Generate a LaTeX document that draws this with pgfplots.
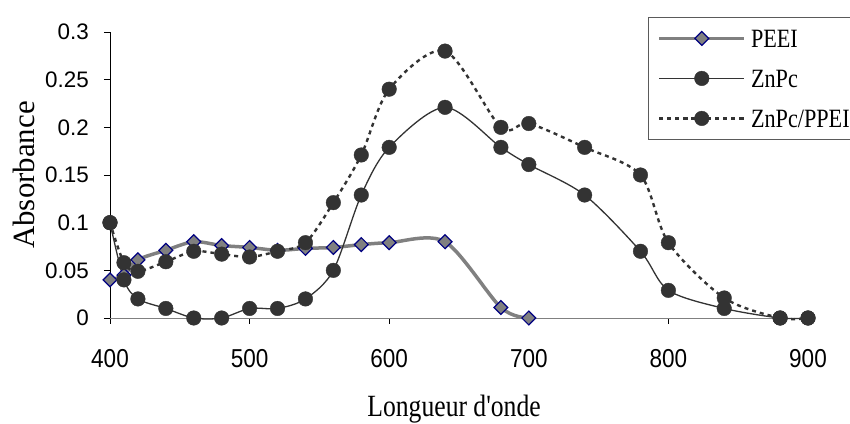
\documentclass[border=0pt]{standalone}
\usepackage{fontspec}
\setmainfont{Liberation Serif}
\newfontfamily\arialf{Liberation Sans}
\newfontfamily\arialc[FakeStretch=0.87]{Liberation Sans}
\newfontfamily\timesc[FakeStretch=0.83]{Liberation Serif}
\newfontfamily\timesl[FakeStretch=0.84]{Liberation Serif}
\usepackage{pgfplots}
\pgfplotsset{compat=1.18}
\definecolor{dk}{HTML}{333333}
\definecolor{gr}{HTML}{808080}
\definecolor{nv}{HTML}{000080}
\begin{document}
\begin{tikzpicture}
\path[use as bounding box] (0,0) rectangle (850bp,424bp);
\begin{axis}[
  at={(110bp,106bp)}, anchor=south west,
  scale only axis, width=698bp, height=286bp,
  xmin=400, xmax=900, ymin=0, ymax=0.3,
  clip=false,
  axis x line*=bottom, axis y line*=left,
  x axis line style={gr, line width=1bp, -},
  y axis line style={black, line width=0.8bp, -},
  xtick={400,500,600,700,800,900},
  xticklabels={400,500,600,700,800,900},
  ytick={0,0.05,0.1,0.15,0.2,0.25,0.3},
  yticklabels={0,0.05,0.1,0.15,0.2,0.25,0.3},
  tick align=outside, major tick length=6bp,
  tick style={black, line width=0.8bp},
  xticklabel style={font=\arialc\fontsize{26}{30}\selectfont, anchor=base, inner sep=0pt, yshift=-43bp},
  yticklabel style={font=\arialf\fontsize{22.5}{26}\selectfont, anchor=east, inner sep=0pt, xshift=-15bp},
  xlabel={Longueur d'onde}, ylabel={Absorbance},
  xlabel style={font=\timesc\fontsize{31}{36}\selectfont, at={(axis description cs:0.493,-0.346)}, anchor=base},
  ylabel style={font=\fontsize{31}{36}\selectfont, at={(axis description cs:-0.123,0.5)}, anchor=center},
  legend style={at={(0.771,1.0524)}, anchor=north west, draw=gr!70!black, line width=0.8bp,
    font=\timesl\fontsize{26.5}{30}\selectfont, fill=white, inner xsep=9bp, inner ysep=9bp,
    nodes={inner sep=0pt, text height=21bp, text depth=3bp},
    cells={anchor=west}, row sep=16bp, column sep=5bp},
  legend image code/.code={\draw[mark repeat=2,mark phase=2] plot coordinates {(0bp,0bp)(42.5bp,0bp)(85bp,0bp)};},
]
\addplot[gr, line width=3.5bp, smooth, mark=square*, mark size=4.9bp,
  mark options={rotate=45, fill=gr, draw=nv, line width=1.2bp, solid}] coordinates {
  (400,0.04) (410,0.045) (420,0.061) (440,0.071) (460,0.080) (480,0.076) (500,0.074)
  (520,0.071) (540,0.073) (560,0.074) (580,0.077) (600,0.079) (640,0.080) (680,0.011) (700,0.0)};
\addlegendentry{PEEI}
\addplot[dk, line width=1.3bp, smooth, mark=*, mark size=7.3bp,
  mark options={fill=dk, draw=dk, line width=0.4bp, solid}] coordinates {
  (400,0.1) (410,0.04) (420,0.02) (440,0.01) (460,0.0) (480,0.0) (500,0.01) (520,0.01)
  (540,0.02) (560,0.05) (580,0.129) (600,0.179) (640,0.221) (680,0.179) (700,0.161)
  (740,0.129) (780,0.07) (800,0.029) (840,0.01) (880,0.0) (900,0.0)};
\addlegendentry{ZnPc}
\addplot[dk, line width=2.4bp, smooth, dash pattern=on 4bp off 4bp, mark=*, mark size=7.3bp,
  mark options={fill=dk, draw=dk, line width=0.4bp, solid}] coordinates {
  (400,0.1) (410,0.058) (420,0.049) (440,0.059) (460,0.07) (480,0.067) (500,0.064) (520,0.07)
  (540,0.079) (560,0.121) (580,0.171) (600,0.24) (640,0.28) (680,0.2) (700,0.204)
  (740,0.179) (780,0.15) (800,0.079) (840,0.021) (880,0.0) (900,0.0)};
\addlegendentry{ZnPc/PPEI}
\end{axis}
\end{tikzpicture}
\end{document}
